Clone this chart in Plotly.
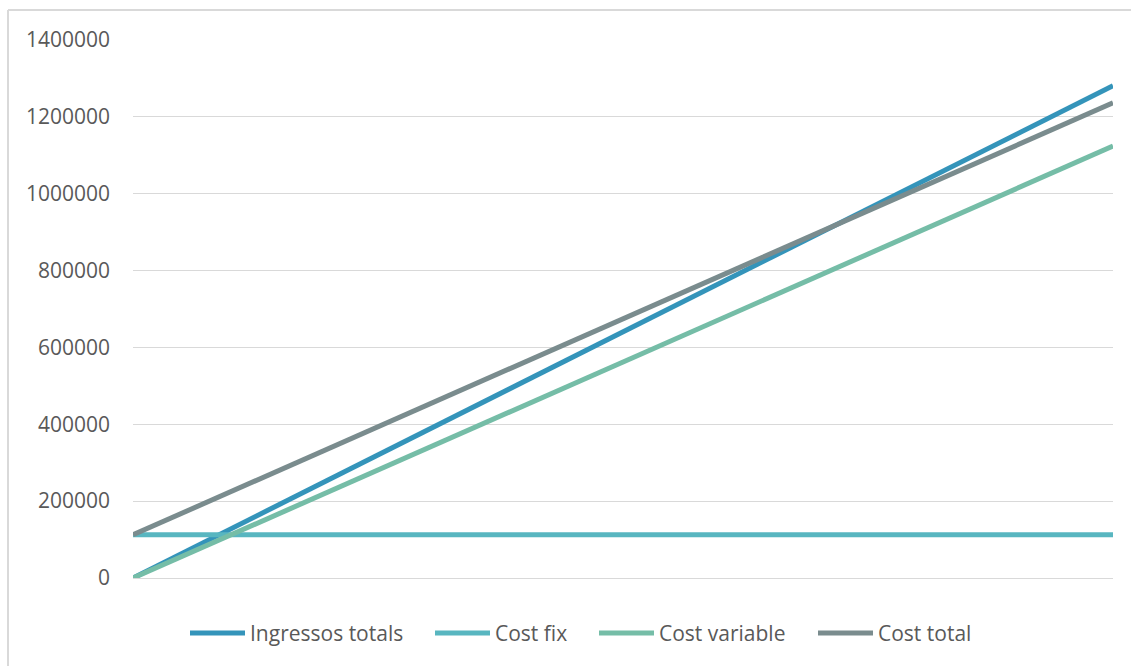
import plotly.graph_objects as go

# Activity level (start and end of the range analysed)
activitat = [0, 1]

# Series values
ingressos_totals = [0, 1281000]
cost_fix = [112500, 112500]
cost_variable = [0, 1124000]
cost_total = [112500, 1236500]

y_ticks = [0, 200000, 400000, 600000, 800000, 1000000, 1200000, 1400000]

series = [
    ("Ingressos totals", ingressos_totals, "#3494BA"),
    ("Cost fix", cost_fix, "#58B6C0"),
    ("Cost variable", cost_variable, "#75BDA7"),
    ("Cost total", cost_total, "#7A8C8E"),
]

# Plot-area geometry in pixels (used to place the legend and frame)
PL, PR, PT, PB = 133, 1113, 40, 578
PW, PH = PR - PL, PB - PT


def px_x(x):
    return (x - PL) / PW


def px_y(y):
    return (PB - y) / PH


fig = go.Figure()
for name, values, color in series:
    fig.add_trace(go.Scatter(
        x=activitat, y=values, mode="lines", name=name,
        line=dict(color=color, width=5), showlegend=False,
    ))

font = dict(family="Open Sans, Lato, sans-serif", size=21, color="#595959")

# Legend drawn below the plot: a short line sample followed by the label
legend_symbol_x = [190, 435, 599, 818]
legend_y = 633
shapes = []
annotations = []
for (name, _, color), sx in zip(series, legend_symbol_x):
    shapes.append(dict(type="line", xref="paper", yref="paper",
                       x0=px_x(sx), x1=px_x(sx + 55),
                       y0=px_y(legend_y), y1=px_y(legend_y),
                       line=dict(color=color, width=5)))
    annotations.append(dict(text=name, xref="paper", yref="paper",
                            x=px_x(sx + 58), y=px_y(legend_y),
                            xanchor="left", yanchor="middle",
                            showarrow=False, font=font))

# Chart-area frame (left and top edges)
shapes.append(dict(type="line", xref="paper", yref="paper",
                   x0=px_x(8), x1=px_x(8), y0=px_y(666), y1=px_y(10),
                   line=dict(color="#D9D9D9", width=2)))
shapes.append(dict(type="line", xref="paper", yref="paper",
                   x0=px_x(8), x1=px_x(1131), y0=px_y(10), y1=px_y(10),
                   line=dict(color="#D9D9D9", width=2)))

fig.update_layout(
    width=1131, height=666,
    margin=dict(l=PL, r=1131 - PR, t=PT, b=666 - PB),
    paper_bgcolor="white", plot_bgcolor="white",
    font=font,
    showlegend=False,
    xaxis=dict(range=[0, 1], showgrid=False, zeroline=False,
               showticklabels=False, ticks="", showline=False),
    yaxis=dict(range=[0, 1400000], tickvals=y_ticks, tickformat="d",
               showgrid=True, gridcolor="#D9D9D9", gridwidth=1,
               zeroline=True, zerolinecolor="#D9D9D9", zerolinewidth=1,
               showline=False, ticks="", ticklabelstandoff=22),
    shapes=shapes,
    annotations=annotations,
)

fig.write_html("out.html")
